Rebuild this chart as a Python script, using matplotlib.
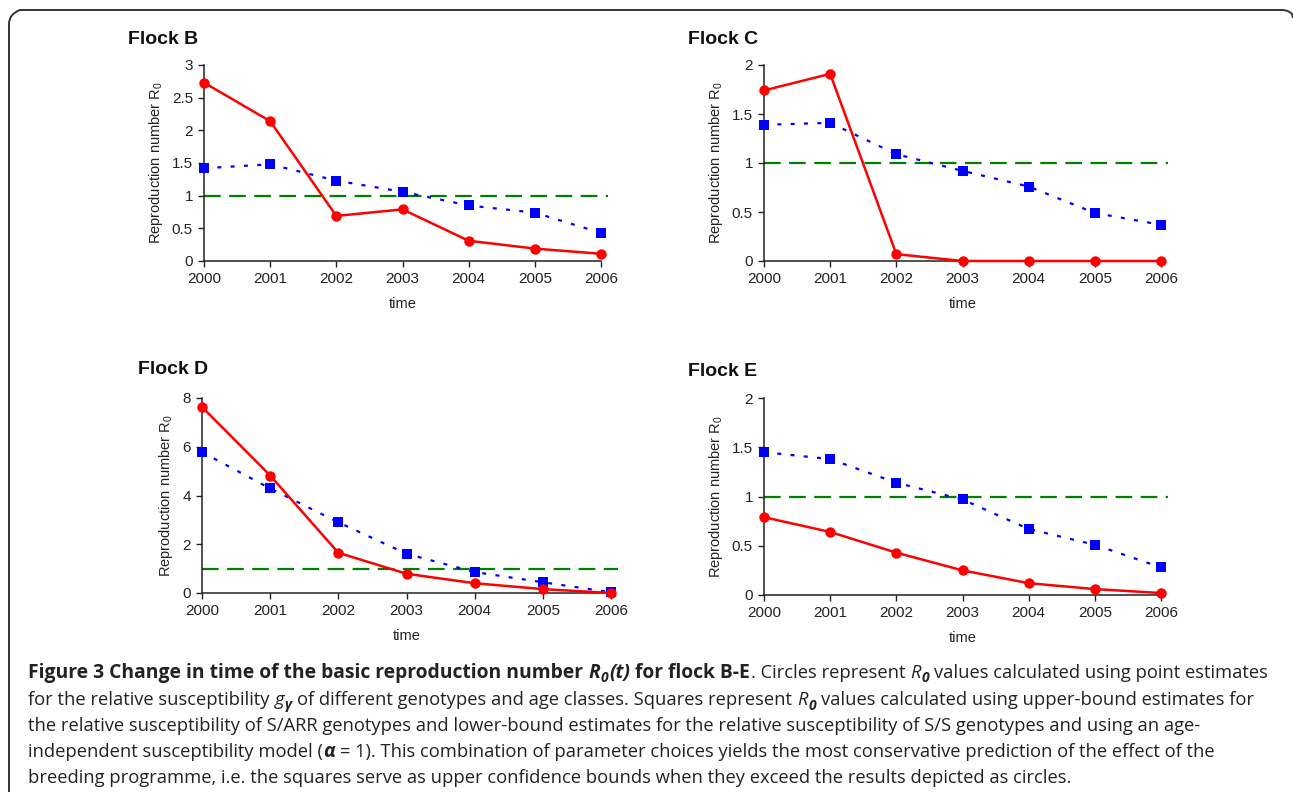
import matplotlib
matplotlib.use("Agg")
import matplotlib.pyplot as plt
from matplotlib.path import Path
from matplotlib.patches import PathPatch
from matplotlib.ticker import FuncFormatter, MultipleLocator

plt.rcParams['font.family'] = ['Liberation Sans', 'DejaVu Sans']
plt.rcParams['mathtext.fontset'] = 'custom'
plt.rcParams['mathtext.rm'] = 'Liberation Sans'
plt.rcParams['mathtext.it'] = 'Liberation Sans:italic'

# ---------------- data ----------------
years = [2000, 2001, 2002, 2003, 2004, 2005, 2006]

flock_names = ["Flock B", "Flock C", "Flock D", "Flock E"]

B_point = [2.73, 2.14, 0.69, 0.79, 0.31, 0.19, 0.11]
B_upper = [1.42, 1.48, 1.23, 1.06, 0.85, 0.74, 0.43]

C_point = [1.74, 1.91, 0.07, 0.0, 0.0, 0.0, 0.0]
C_upper = [1.39, 1.41, 1.09, 0.92, 0.76, 0.49, 0.37]

D_point = [7.63, 4.82, 1.65, 0.79, 0.40, 0.16, 0.0]
D_upper = [5.78, 4.29, 2.90, 1.61, 0.86, 0.44, 0.03]

E_point = [0.79, 0.64, 0.43, 0.25, 0.12, 0.06, 0.02]
E_upper = [1.45, 1.38, 1.14, 0.97, 0.67, 0.51, 0.28]

threshold = 1.0
y_max = [3, 2, 8, 2]
y_step = [0.5, 0.5, 2, 0.5]

W, H = 1293, 792
DPI = 100
fig = plt.figure(figsize=(W / DPI, H / DPI), dpi=DPI)

def fx(px):
    return px / W

def fy(py):
    return 1 - py / H

# axes boxes in pixels: left, right, top, bottom
boxes = [(204, 601, 65, 261), (764, 1161, 65, 261),
         (202, 611, 398, 593), (764, 1161, 398, 595)]
title_pos = [(128, 39), (688, 39), (138, 370), (688, 371)]

points = [B_point, C_point, D_point, E_point]
uppers = [B_upper, C_upper, D_upper, E_upper]

for i in range(4):
    l, r, t, b = boxes[i]
    ax = fig.add_axes([fx(l), fy(b), fx(r - l), (b - t) / H])
    ax.set_facecolor('none')
    ax.set_xlim(years[0], years[-1])
    ax.set_ylim(0, y_max[i])
    for s in ['top', 'right']:
        ax.spines[s].set_visible(False)
    for s in ['left', 'bottom']:
        ax.spines[s].set_color('#222222')
        ax.spines[s].set_linewidth(1.1)
    ax.set_xticks(years)
    ax.yaxis.set_major_locator(MultipleLocator(y_step[i]))
    ax.yaxis.set_major_formatter(FuncFormatter(lambda v, p: '%g' % v))
    ax.tick_params(axis='both', direction='out', length=4, width=1,
                   color='#222222', labelsize=11, labelcolor='#222222', pad=4)
    ax.plot([years[0], years[-1] + 0.1], [threshold, threshold],
            color='#008000', lw=1.6, linestyle=(0, (7.5, 3.8)), clip_on=False,
            zorder=2)
    ax.plot(years, uppers[i], color='#0000ff', lw=1.6,
            linestyle=(0, (1.8, 4.2)), marker='s', markersize=6.5,
            markeredgewidth=0, clip_on=False, zorder=3)
    ax.plot(years, points[i], color='#ff0000', lw=1.8, linestyle='-',
            marker='o', markersize=7.5, markeredgewidth=0, clip_on=False,
            zorder=4)
    ax.set_xlabel('time', fontsize=10.5, color='#222222', labelpad=8)
    ax.set_ylabel(r'Reproduction number R$_{\mathrm{0}}$', fontsize=10.5,
                  color='#222222', labelpad=5)
    tx, ty = title_pos[i]
    fig.text(fx(tx), fy(ty), flock_names[i], fontsize=14,
             fontweight='bold', ha='left', va='center', color='#111111')

# ---------------- frame ----------------
verts = [(9, H), (9, 24), (9, 14), (20, 10), (1282, 10), (1288, 10),
         (1292, 14), (1293, 18)]
verts = [(fx(x), fy(y)) for x, y in verts]
codes = [Path.MOVETO, Path.LINETO, Path.CURVE3, Path.CURVE3, Path.LINETO,
         Path.CURVE3, Path.CURVE3, Path.LINETO]
fig.patches.append(PathPatch(Path(verts, codes), transform=fig.transFigure,
                             fill=False, edgecolor='#333333', lw=1.4))

# ---------------- caption ----------------
CAP = 'Open Sans'
cs = 13.27
cs_bold = 13.9
renderer = fig.canvas.get_renderer()

def text_width(s, **kw):
    t = fig.text(0, 0, s, **kw)
    w = t.get_window_extent(renderer).width
    t.remove()
    return w

space_cache = {}

def space_w(kw):
    key = (kw['fontsize'], kw['fontweight'], kw['fontstyle'])
    if key not in space_cache:
        space_cache[key] = text_width('x x', **kw) - text_width('xx', **kw)
    return space_cache[key]

def rich_line(x0, base, segs):
    x = x0
    for txt, style in segs:
        sub = 'sub' in style
        bold = 'b' in style
        size = cs_bold if bold else cs
        kw = dict(family=[CAP, 'DejaVu Sans'], fontsize=size * (0.72 if sub else 1.0),
                  fontweight='bold' if bold else 'normal',
                  fontstyle='italic' if 'i' in style else 'normal',
                  color='#222222')
        lead = len(txt) - len(txt.lstrip(' '))
        trail = len(txt) - len(txt.rstrip(' '))
        core = txt.strip(' ')
        sw = space_w(kw)
        x += lead * sw
        yy = base + (4.5 if sub else 0)
        if core:
            t = fig.text(fx(x), fy(yy), core, ha='left', va='baseline', **kw)
            x = t.get_window_extent(renderer).x1 + 0.5
        x += trail * sw

cap_lines = [
    [("Figure 3 Change in time of the basic reproduction number ", 'b'),
     ("R", 'bi'), ("0", 'bi sub'), ("(t)", 'bi'), (" for flock B-E", 'b'),
     (". Circles represent ", ''), ("R", 'i'), ("0", 'i sub'),
     (" values calculated using point estimates", '')],
    [("for the relative susceptibility ", ''), ("g", 'i'), ("\u03b3", 'i sub'),
     (" of different genotypes and age classes. Squares represent ", ''),
     ("R", 'i'), ("0", 'i sub'),
     (" values calculated using upper-bound estimates for", '')],
    [("the relative susceptibility of S/ARR genotypes and lower-bound estimates "
      "for the relative susceptibility of S/S genotypes and using an age-", '')],
    [("independent susceptibility model (", ''), ("\u03b1", 'bi'),
     (" = 1). This combination of parameter choices yields the most "
      "conservative prediction of the effect of the", '')],
    [("breeding programme, i.e. the squares serve as upper confidence bounds "
      "when they exceed the results depicted as circles.", '')],
]
cap_base = [678, 705, 731, 757, 783]
for segs, yb in zip(cap_lines, cap_base):
    rich_line(28, yb, segs)

fig.savefig('out.png', dpi=DPI)
